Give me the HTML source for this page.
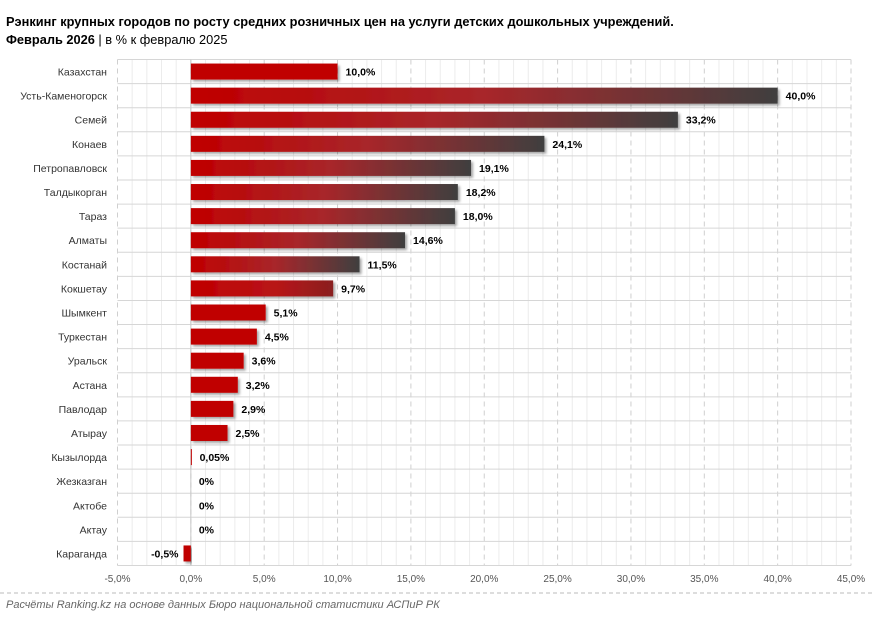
<!DOCTYPE html><html><head><meta charset="utf-8"><style>body{margin:0;background:#fff}svg{display:block;font-family:"Liberation Sans",sans-serif}</style></head><body>
<svg width="872" height="620" viewBox="0 0 872 620">
<defs>
<linearGradient id="g" x1="0" x2="1"><stop offset="0" stop-color="#c00000"/><stop offset="0.5" stop-color="#a8262a"/><stop offset="1" stop-color="#3f3f3f"/></linearGradient>
<linearGradient id="g2" x1="0" x2="1"><stop offset="0" stop-color="#c00000"/><stop offset="0.6" stop-color="#b81518"/><stop offset="1" stop-color="#8a2020"/></linearGradient>
<filter id="s" x="-5%" y="-20%" width="115%" height="160%"><feDropShadow dx="2" dy="2" stdDeviation="1.2" flood-color="#000" flood-opacity="0.35"/></filter>
</defs>
<text x="6" y="26" font-size="12.8" font-weight="bold" fill="#000">Рэнкинг крупных городов по росту средних розничных цен на услуги детских дошкольных учреждений.</text>
<text x="6" y="44" font-size="12.8" fill="#000"><tspan font-weight="bold">Февраль 2026</tspan> | в % к февралю 2025</text>
<g id="grid"></g>
<g id="bars"></g>
<line x1="0" y1="593" x2="872" y2="593" stroke="#bbb" stroke-dasharray="4,3"/>
<text x="6" y="608" font-size="11" font-style="italic" fill="#666">Расчёты Ranking.kz на основе данных Бюро национальной статистики АСПиР РК</text>
<script>
var ns="http://www.w3.org/2000/svg";
function el(p,t,a,txt){var e=document.createElementNS(ns,t);for(var k in a)e.setAttribute(k,a[k]);if(txt!=null)e.textContent=txt;p.appendChild(e);return e;}
var G=document.getElementById('grid'),B=document.getElementById('bars');
var X0=117.5,X1=851,T=59.5,Bt=565.5,rh=(Bt-T)/21;
function X(v){return X0+(v+5)/50*(X1-X0);}
for(var v=-5;v<=45;v++){var x=X(v);if(v%5==0)el(G,'line',{x1:x,y1:T,x2:x,y2:Bt,stroke:'#cfcfcf','stroke-dasharray':'5,4'});else el(G,'line',{x1:x,y1:T,x2:x,y2:Bt,stroke:'#ececec'});}
for(var i=0;i<=21;i++){var y=T+i*rh;el(G,'line',{x1:X0,y1:y,x2:X1,y2:y,stroke:'#d6d6d6'});}
el(G,'line',{x1:X(0),y1:T,x2:X(0),y2:Bt,stroke:'#c8c8c8'});
for(var v=-5;v<=45;v+=5)el(G,'text',{x:X(v),y:582,'font-size':10,fill:'#555','text-anchor':'middle'},v.toFixed(1).replace('.',',')+'%');
var d=[["Казахстан",10,"10,0%"],["Усть-Каменогорск",40,"40,0%"],["Семей",33.2,"33,2%"],["Конаев",24.1,"24,1%"],["Петропавловск",19.1,"19,1%"],["Талдыкорган",18.2,"18,2%"],["Тараз",18,"18,0%"],["Алматы",14.6,"14,6%"],["Костанай",11.5,"11,5%"],["Кокшетау",9.7,"9,7%"],["Шымкент",5.1,"5,1%"],["Туркестан",4.5,"4,5%"],["Уральск",3.6,"3,6%"],["Астана",3.2,"3,2%"],["Павлодар",2.9,"2,9%"],["Атырау",2.5,"2,5%"],["Кызылорда",0.05,"0,05%"],["Жезказган",0,"0%"],["Актобе",0,"0%"],["Актау",0,"0%"],["Караганда",-0.5,"-0,5%"]];
d.forEach(function(r,i){var cy=T+(i+0.5)*rh;
el(B,'text',{x:107,y:cy+4,'font-size':10.5,fill:'#333','text-anchor':'end'},r[0]);
var v=r[1],x0=X(Math.min(0,v)),w=Math.abs(X(v)-X(0));
var f='#c00000';if(i>0&&v>=11)f='url(#g)';else if(i>0&&v>=9)f='url(#g2)';
if(w>0.3)el(B,'rect',{x:x0,y:cy-8,width:Math.max(w,1),height:16,fill:f,filter:'url(#s)'});
if(v<0)el(B,'text',{x:X(v)-5,y:cy+4,'font-size':10.5,'font-weight':'bold','text-anchor':'end'},r[2]);
else el(B,'text',{x:X(v)+8,y:cy+4,'font-size':10.5,'font-weight':'bold'},r[2]);
});
</script>
</svg></body></html>
